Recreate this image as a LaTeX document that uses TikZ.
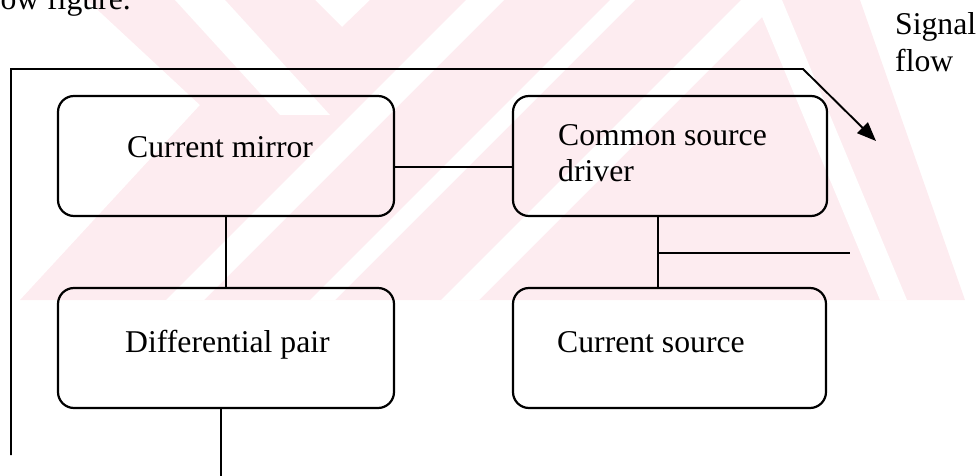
\documentclass[tikz,border=0pt]{standalone}
\usepackage{fontspec}
\setmainfont{Liberation Serif}
\usetikzlibrary{arrows.meta}
\definecolor{wmpink}{RGB}{253,236,240}
\begin{document}
\begin{tikzpicture}[x=1pt,y=-1pt,
  blk/.style={draw, line width=2.2pt, rounded corners=16pt, inner sep=0pt},
  txt/.style={inner sep=0pt, font=\fontsize{31.7}{36}\selectfont},
  wire/.style={line width=1.9pt},
  gap/.style={fill=white}]
\useasboundingbox (0,0) rectangle (978,476);

% faint striped emblem behind the upper half
\begin{scope}
  \clip (0,0) rectangle (978,300);
  \fill[wmpink] (87,0) -- (315,0) -- (342,27) -- (370,0) -- (860,0)
        -- (965,300) -- (20,300) -- (200,105) -- cycle;
  % white gaps between the stripes
  \fill[gap] (175,0) -- (225,0) -- (330,115) -- (280,115) -- cycle;
  \fill[gap] (466,0) -- (504,0) -- (204,300) -- (166,300) -- cycle;
  \fill[gap] (610,0) -- (635,0) -- (335,300) -- (310,300) -- cycle;
  \fill[gap] (741,0) -- (779,0) -- (479,300) -- (441,300) -- cycle;
  \fill[gap] (755,0) -- (782,0) -- (907,300) -- (880,300) -- cycle;
\end{scope}

% heading fragment
\node[txt, anchor=base east] (head) at (131,10) {ow figure.};

% blocks
\node[blk, minimum width=336pt, minimum height=120pt] (cm)  at (226,156)   {};
\node[blk, minimum width=314pt, minimum height=120pt] (csd) at (670,156)   {};
\node[blk, minimum width=336pt, minimum height=120pt] (dp)  at (226,348)   {};
\node[blk, minimum width=313pt, minimum height=120pt] (cs)  at (669.5,348) {};

% block captions
\node[txt, anchor=base west] (cmt)  at (127,158) {Current mirror};
\node[txt, anchor=base west] (csdt) at (558,146) {Common source};
\node[txt, anchor=base west] (csdu) at (558,182) {driver};
\node[txt, anchor=base west] (dpt)  at (125,352) {Differential pair};
\node[txt, anchor=base west] (cst)  at (557,352) {Current source};

% signal-flow note
\node[txt, anchor=base west] (sig1) at (895,35) {Signal};
\node[txt, anchor=base west] (sig2) at (895,72) {flow};

% connections between blocks
\draw[wire] ([yshift=-11pt]cm.east) -- ([yshift=-11pt]csd.west);
\draw[wire] (cm.south) -- (dp.north);
\draw[wire] ([xshift=-12pt]csd.south) -- ([xshift=-11.5pt]cs.north);
\coordinate (tap) at (658,253);
\coordinate (tapout) at (850,253);
\draw[wire] (tap) -- (tapout);
\coordinate (dpout) at (221,476);
\draw[wire] ([xshift=-5pt]dp.south) -- (dpout);

% feedback path with signal-flow arrow
\coordinate (fb0) at (11,455);
\coordinate (fb1) at (11,69);
\coordinate (fb2) at (803,69);
\coordinate (fb3) at (876,141);
\draw[wire, -{Triangle[length=19pt,width=15pt]}] (fb0) -- (fb1) -- (fb2) -- (fb3);
\end{tikzpicture}
\end{document}
